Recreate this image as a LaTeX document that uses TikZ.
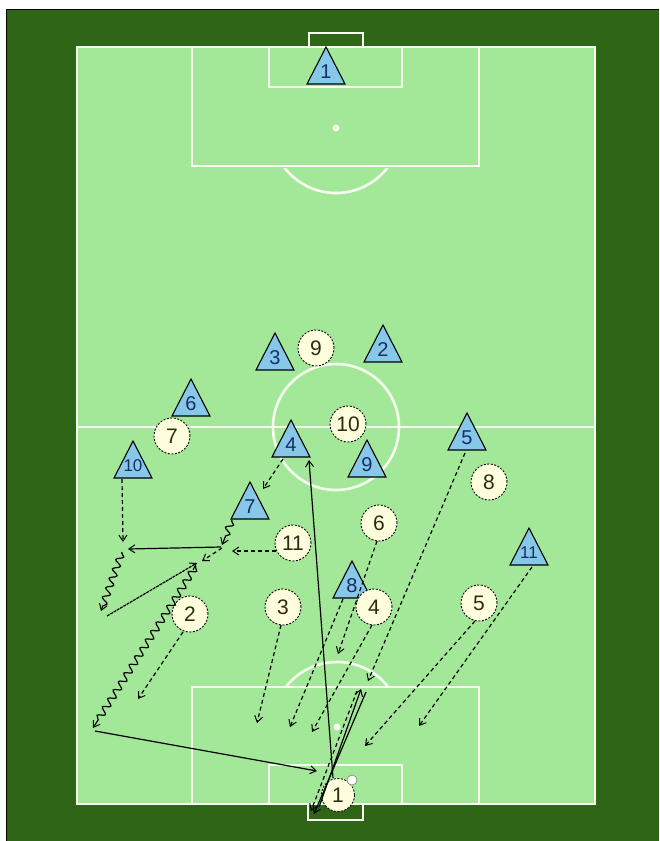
\documentclass[tikz,border=0pt]{standalone}
\usepackage{fontspec}
\setmainfont{Liberation Sans}
\usetikzlibrary{arrows.meta,decorations.pathmorphing,calc}
\definecolor{darkgr}{RGB}{46,101,22}
\definecolor{pitchgr}{RGB}{163,232,152}
\definecolor{linew}{RGB}{246,255,240}
\definecolor{tribl}{RGB}{135,200,232}
\definecolor{tritx}{RGB}{25,45,105}
\definecolor{circf}{RGB}{255,255,222}
\definecolor{circt}{RGB}{50,40,20}
\newcommand\oppo[5][]{\filldraw[oppfill] (#3,#4) -- ++(19,37) -- ++(-38,0) -- cycle;
  \node[oppnum,#1] (#2) at (#3,#4+25) {#5};}
\newcommand\home[4]{\node[homep] (#1) at (#2,#3) {#4};}
\tikzset{
  pl/.style={draw=linew, line width=2.6pt},
  oppfill/.style={fill=tribl, draw=black, line width=1.1pt, line join=miter},
  oppnum/.style={inner sep=0pt, text=tritx, font=\fontsize{20}{20}\selectfont},
  smallnum/.style={font=\fontsize{17}{17}\selectfont},
  homep/.style={circle, fill=circf, draw=black, line width=0.9pt, dash pattern=on 2pt off 1.5pt,
    minimum size=36pt, inner sep=0pt, text=circt, font=\fontsize{21}{21}\selectfont},
  tip/.style={-{Straight Barb[length=6pt,width=8pt,line width=1pt]}},
  pass/.style={draw=black, line width=1.2pt, tip},
  run/.style={draw=black, line width=1.2pt, dash pattern=on 4pt off 3pt, tip},
  fine/.style={draw=black, line width=1.2pt, dash pattern=on 3pt off 0.8pt, tip},
  dribble/.style={draw=black, line width=1.2pt, tip, decorate,
    decoration={snake, amplitude=3.4pt, segment length=10pt, pre length=1pt, post length=5pt}},
}
\begin{document}
\begin{tikzpicture}[x=1pt,y=-1pt]
\useasboundingbox (0,0) rectangle (659,841);
\fill[white] (0,0) rectangle (659,841);
\fill[darkgr] (6,9) rectangle (659,841);
\draw[black, line width=1.6pt] (6.5,841) -- (6.5,9.5) -- (659,9.5);
% pitch
\fill[pitchgr] (77,47) rectangle (595,804);
\draw[pl] (77,47) rectangle (595,804);
\draw[pl] (77,427) -- (595,427);
\draw[pl] (336,427) circle (63);
% top end
\draw[pl] (192,47) rectangle (479,166);
\draw[pl] (269,47) rectangle (402,87);
\draw[pl] (309,47) -- (309,33) -- (363,33) -- (363,47);
\fill[linew] (336,128) circle (3.5);
\begin{scope}
  \clip (192,168) rectangle (479,260);
  \draw[pl] (336,128) circle (65);
\end{scope}
% bottom end
\draw[pl] (192,687) rectangle (479,804);
\draw[pl] (269,765) rectangle (402,804);
\draw[pl] (308,804) -- (308,820) -- (363,820) -- (363,804);
\fill[linew] (337,727) circle (3.5);
\begin{scope}
  \clip (192,600) rectangle (479,685.5);
  \draw[pl] (337,727) circle (65);
\end{scope}
% opponents
\oppo{t1}{326}{47}{1}
\oppo{t3}{275}{333}{3}
\oppo{t2}{383}{325}{2}
\oppo{t6}{191}{379}{6}
\oppo{t4}{291}{420}{4}
\oppo{t9}{367}{440}{9}
\oppo{t5}{467}{413}{5}
\oppo[smallnum]{t10}{133}{441}{10}
\oppo{t7}{250}{482}{7}
\oppo{t8}{352}{561}{8}
\oppo[smallnum]{t11}{529}{528}{11}
% home players
\home{c9}{316}{348}{9}
\home{c7}{172}{436}{7}
\home{c10}{348}{424}{10}
\home{c8}{489}{482}{8}
\home{c6}{379}{523}{6}
\home{c11}{293}{543}{11}
\home{c3}{283}{607}{3}
\home{c2}{190}{614}{2}
\home{c4}{374}{607}{4}
\home{c5}{479}{603}{5}
\node[homep, minimum size=33pt] (c1) at (338,795) {1};
\node[circle, fill=white, draw=gray, line width=0.6pt, minimum size=10pt, inner sep=0pt] (ball) at (352,780) {};
% connector end points
\coordinate (r1a) at (122,479); \coordinate (r1b) at (123,542);
\coordinate (p1a) at (221,547); \coordinate (p1b) at (128,549);
\coordinate (d1a) at (122,552); \coordinate (d1b) at (101,611);
\coordinate (p2a) at (107,616); \coordinate (p2b) at (197,563);
\coordinate (d2a) at (232,520); \coordinate (d2b) at (222,545);
\coordinate (r2a) at (276,551); \coordinate (r2b) at (232,551);
\coordinate (r3a) at (222,548); \coordinate (r3b) at (202,561);
\coordinate (d3a) at (196,566); \coordinate (d3b) at (93,728);
\coordinate (p3a) at (95,731);  \coordinate (p3b) at (317,771);
\coordinate (r4a) at (183,632); \coordinate (r4b) at (138,699);
\coordinate (r5a) at (281,625); \coordinate (r5b) at (257,723);
\coordinate (r6a) at (343,599); \coordinate (r6b) at (290,727);
\coordinate (r7a) at (377,541); \coordinate (r7b) at (338,654);
\coordinate (r8a) at (372,625); \coordinate (r8b) at (312,732);
\coordinate (r9a) at (475,621); \coordinate (r9b) at (365,746);
\coordinate (r10a) at (532,567); \coordinate (r10b) at (419,726);
\coordinate (r11a) at (465,453); \coordinate (r11b) at (368,681);
\coordinate (r12a) at (283,459); \coordinate (r12b) at (263,489);
\coordinate (p4a) at (333,778); \coordinate (p4b) at (309,460);
\coordinate (g1a) at (319,807); \coordinate (g1b) at (361,689);
\coordinate (g2a) at (366,692); \coordinate (g2b) at (314,814);
\coordinate (g3a) at (357,691); \coordinate (g3b) at (311,811);
% connectors
\draw[run] (r1a) -- (r1b);
\draw[pass] (p1a) -- (p1b);
\draw[dribble] (d1a) -- (d1b);
\draw[fine] (p2a) -- (p2b);
\draw[dribble] (d2a) -- (d2b);
\draw[run] (r2a) -- (r2b);
\draw[run] (r3a) -- (r3b);
\draw[dribble] (d3a) -- (d3b);
\draw[pass] (p3a) -- (p3b);
\draw[run] (r4a) -- (r4b);
\draw[run] (r5a) -- (r5b);
\draw[run] (r6a) -- (r6b);
\draw[run] (r7a) -- (r7b);
\draw[run] (r8a) -- (r8b);
\draw[run] (r9a) -- (r9b);
\draw[run] (r10a) -- (r10b);
\draw[run] (r11a) -- (r11b);
\draw[run] (r12a) -- (r12b);
\draw[pass] (p4a) -- (p4b);
\draw[pass] (g1a) -- (g1b);
\draw[pass] (g2a) -- (g2b);
\draw[run] (g3a) -- (g3b);
\end{tikzpicture}
\end{document}
